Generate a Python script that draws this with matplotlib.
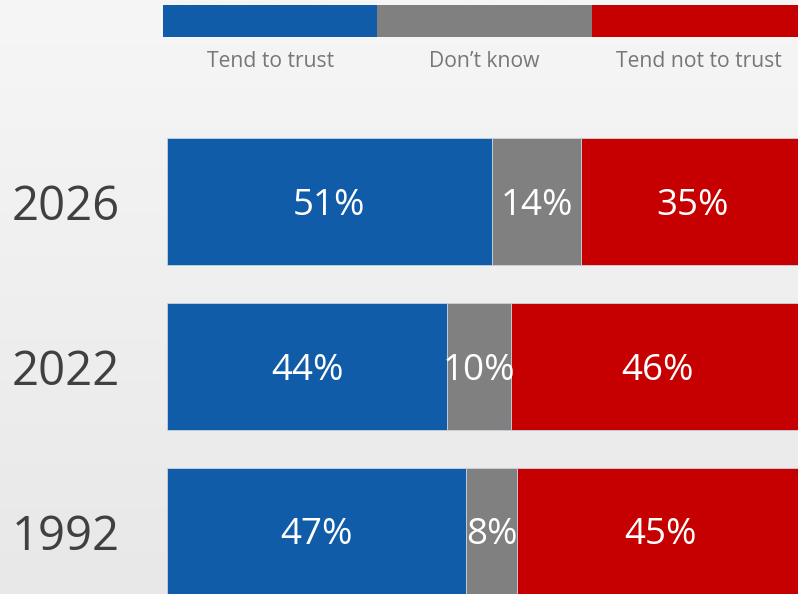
import matplotlib
matplotlib.use("Agg")
import matplotlib.pyplot as plt
import numpy as np
from matplotlib.colors import LinearSegmentedColormap

years = ["2026", "2022", "1992"]
trust = [51, 44, 47]
dont_know = [14, 10, 8]
not_trust = [35, 46, 45]
series_names = ["Tend to trust", "Don\u2019t know", "Tend not to trust"]
colors = ["#115ca8", "#808080", "#c60000"]

plt.rcParams['font.family'] = ['Open Sans', 'DejaVu Sans']

W, H = 798, 594
fig = plt.figure(figsize=(W / 100, H / 100), dpi=100)

# background gradient
bg = fig.add_axes([0, 0, 1, 1], zorder=0)
grad = np.linspace(0, 1, 256).reshape(-1, 1)
cmap = LinearSegmentedColormap.from_list("bg", ["#f6f6f6", "#e8e8e8"])
bg.imshow(grad, aspect="auto", cmap=cmap, extent=[0, 1, 0, 1], origin="upper")
bg.set_axis_off()

# legend strip
lx0, lw = 163, 643
lax = fig.add_axes([lx0 / W, 1 - 37 / H, lw / W, 32 / H], zorder=1)
for i, (name, c) in enumerate(zip(series_names, colors)):
    lax.barh(0, 1, left=i, height=1, color=c, edgecolor="none")
    lax.text(i + 0.5, -1.27, name, ha="center", va="center", fontsize=15.2,
             color="#777777")
lax.set_xlim(0, 3)
lax.set_ylim(-0.5, 0.5)
lax.set_axis_off()

# main bars
x0, x1 = 167, 804
top_px, bot_px = 102.5, 594
ax = fig.add_axes([x0 / W, 0, (x1 - x0) / W, (bot_px - top_px) / H], zorder=1)
ypos = np.arange(len(years))
h = 127 / 165
left = np.zeros(len(years))
for vals, c in zip([trust, dont_know, not_trust], colors):
    bars = ax.barh(ypos, vals, left=left, height=h, color=c,
                   edgecolor="#c9d3de", linewidth=0.6)
    labs = ax.bar_label(bars, labels=[f"{v}%" for v in vals], label_type="center",
                        color="white", fontsize=26.5)
    for t in labs:
        t.set_va("center_baseline")
    left += np.array(vals)
ax.set_xlim(0, 100)
ax.set_ylim(2 + (bot_px - 531.5) / 165, -(201.5 - top_px) / 165)
ax.set_yticks(ypos)
ax.set_yticklabels(years, fontsize=34, color="#404040")
ax.tick_params(axis="y", length=0, pad=34)
ax.set_xticks([])
for s in ax.spines.values():
    s.set_visible(False)
ax.patch.set_alpha(0)

fig.savefig("out.png", dpi=100)
